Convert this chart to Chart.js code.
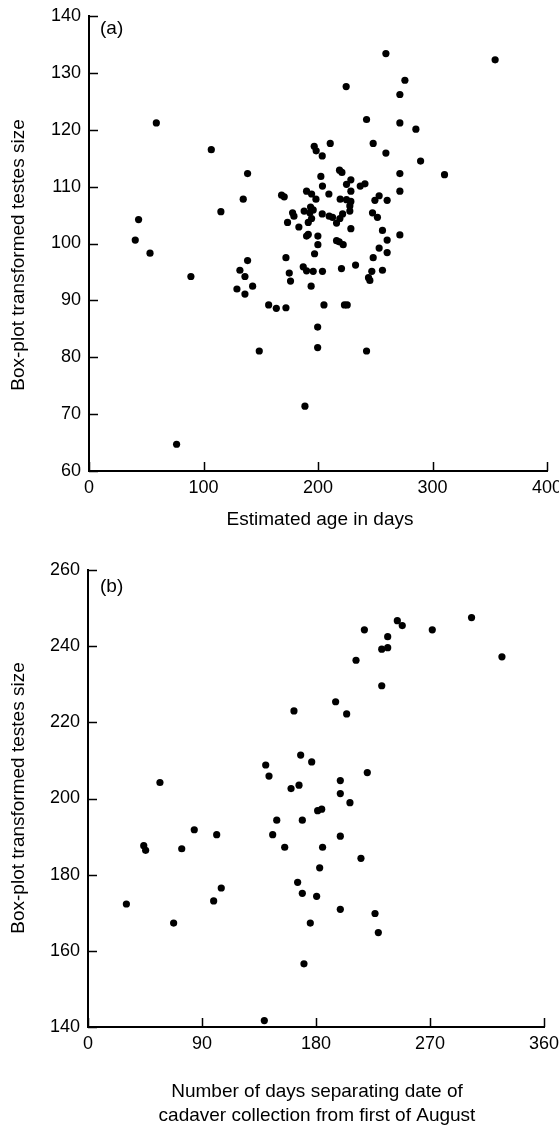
<!DOCTYPE html>
<html>
<head>
<meta charset="utf-8">
<script src="https://cdn.jsdelivr.net/npm/chart.js@4"></script>
<style>
  html, body { margin: 0; padding: 0; background: #fff; }
  body { width: 559px; height: 1125px; position: relative; overflow: hidden; }
  #wrapA { position: absolute; left: 0; top: 0; width: 559px; height: 545px; }
  #wrapB { position: absolute; left: 0; top: 545px; width: 559px; height: 580px; }
</style>
</head>
<body>
<div id="wrapA"><canvas id="chartA" width="559" height="545"></canvas></div>
<div id="wrapB"><canvas id="chartB" width="559" height="580"></canvas></div>
<script>
// Panel (a): estimated age (days) vs box-plot transformed testes size
const ageDays = [
  58.8, 106.8, 138.5, 134.7, 168.2, 170.5, 115.2, 43.3, 40.4, 53.3,
  89.0, 138.5, 131.8, 136.2, 129.2, 142.9, 136.2, 156.9, 163.6, 172.0,
  148.7, 76.5, 188.6, 259.3, 354.7, 275.9, 224.6, 271.5, 242.4, 271.5,
  285.5, 196.7, 210.7, 248.2, 198.4, 203.7, 259.3, 289.6, 310.5, 271.5,
  218.8, 220.9, 202.5, 228.7, 224.9, 203.9, 236.9, 241.0, 228.7, 271.5,
  190.0, 209.5, 194.4, 198.2, 219.4, 224.9, 228.7, 249.7, 253.4, 260.4,
  193.5, 227.8, 227.8, 187.9, 192.9, 195.8, 177.8, 179.0, 203.7, 209.8,
  212.7, 221.5, 219.1, 216.2, 247.6, 251.9, 173.4, 183.3, 191.5, 194.4,
  228.7, 256.3, 271.5, 260.4, 190.0, 191.5, 199.9, 199.9, 216.2, 218.5,
  222.0, 253.4, 260.4, 197.0, 172.0, 248.2, 232.8, 220.5, 187.1, 190.0,
  195.8, 203.9, 174.9, 176.0, 194.0, 247.0, 256.3, 244.1, 245.3, 205.2,
  223.1, 225.5, 199.7, 199.7, 242.4
];
const testesA = [
  121.2, 116.5, 112.3, 107.8, 108.5, 108.2, 105.6, 104.2, 100.6, 98.3,
  94.2, 97.0, 95.3, 94.2, 92.0, 92.5, 91.1, 89.2, 88.6, 88.7,
  81.1, 64.7, 71.4, 133.4, 132.3, 128.7, 127.6, 126.2, 121.8, 121.2,
  120.1, 117.1, 117.6, 117.6, 116.3, 115.4, 115.9, 114.5, 112.1, 112.3,
  112.9, 112.5, 111.8, 111.2, 110.4, 110.1, 110.1, 110.5, 109.2, 109.2,
  109.2, 108.7, 108.7, 107.8, 107.8, 107.7, 107.4, 107.6, 108.4, 107.6,
  106.4, 106.6, 105.7, 105.7, 105.4, 105.9, 105.4, 104.8, 105.2, 104.8,
  104.6, 105.2, 104.4, 103.6, 105.4, 104.6, 103.7, 102.9, 103.7, 104.4,
  102.6, 102.3, 101.5, 100.6, 101.3, 101.6, 101.3, 99.8, 100.5, 100.3,
  99.8, 99.2, 98.4, 98.2, 97.5, 97.5, 96.2, 95.6, 95.9, 95.2,
  95.1, 95.1, 94.8, 93.4, 92.5, 95.1, 95.3, 94.0, 93.5, 89.2,
  89.2, 89.2, 85.3, 81.7, 81.1
];

// Panel (b): days from first of August to cadaver collection vs testes size
const daysFromAug = [
  30.3, 44.0, 45.5, 56.8, 67.6, 74.0, 83.9, 99.2, 101.6, 105.2,
  139.2, 140.3, 142.9, 145.8, 149.0, 155.3, 160.3, 162.6, 165.5, 166.6,
  167.9, 169.2, 169.2, 170.5, 175.5, 176.6, 180.5, 181.3, 182.9, 184.5,
  185.2, 195.5, 199.2, 199.2, 199.2, 199.2, 204.2, 206.8, 211.6, 215.5,
  218.2, 220.5, 226.6, 229.2, 231.9, 231.9, 236.6, 236.6, 244.2, 248.1,
  271.8, 302.8, 326.8
];
const testesB = [
  172.3, 187.6, 186.4, 204.2, 167.3, 186.8, 191.8, 173.1, 190.5, 176.5,
  141.7, 208.8, 205.9, 190.5, 194.3, 187.2, 202.6, 223.0, 178.0, 203.5,
  211.4, 194.3, 175.1, 156.6, 167.3, 209.6, 174.3, 196.8, 181.8, 197.2,
  187.2, 225.4, 204.7, 201.3, 190.1, 170.9, 222.2, 198.9, 236.3, 184.3,
  244.3, 206.8, 169.8, 164.8, 229.6, 239.2, 239.6, 242.5, 246.7, 245.4,
  244.3, 247.5, 237.2
];

// Axis ranges and tick steps
const xTicksA = [0, 100, 200, 300, 400];
const yTicksA = [60, 70, 80, 90, 100, 110, 120, 130, 140];
const xTicksB = [0, 90, 180, 270, 360];
const yTicksB = [140, 160, 180, 200, 220, 240, 260];

const FONT = "'Liberation Sans', Arial, Helvetica, sans-serif";
const TICK_FONT = { family: FONT, size: 18 };

function toPoints(xs, ys) {
  return xs.map((x, i) => ({ x: x, y: ys[i] }));
}

// Inward tick marks, panel letter and axis titles
const axisDecor = {
  id: 'axisDecor',
  afterDraw(chart, args, opts) {
    const ctx = chart.ctx;
    const area = chart.chartArea;
    const xs = chart.scales.x, ys = chart.scales.y;
    ctx.save();
    ctx.strokeStyle = '#000';
    ctx.lineWidth = 1.5;
    ctx.beginPath();
    xs.ticks.forEach(t => {
      const px = Math.round(xs.getPixelForValue(t.value)) + 0.5;
      ctx.moveTo(px, area.bottom);
      ctx.lineTo(px, area.bottom - 9);
    });
    ys.ticks.forEach(t => {
      const py = Math.round(ys.getPixelForValue(t.value)) + 0.5;
      ctx.moveTo(area.left, py);
      ctx.lineTo(area.left + 9, py);
    });
    ctx.stroke();

    ctx.fillStyle = '#000';
    ctx.font = '19px ' + FONT;
    ctx.textBaseline = 'alphabetic';
    ctx.textAlign = 'left';
    ctx.fillText(opts.panel, opts.panelX, opts.panelY);

    ctx.textAlign = 'center';
    opts.xTitle.forEach((line, i) => {
      ctx.fillText(line, opts.xTitleX, opts.xTitleY + i * 24);
    });

    ctx.translate(opts.yTitleX, opts.yTitleY);
    ctx.rotate(-Math.PI / 2);
    ctx.textBaseline = 'middle';
    ctx.fillText(opts.yTitle, 0, 0);
    ctx.restore();
  }
};

function makeChart(id, cfg) {
  const fixedX = s => { s.height = cfg.xHeight; s.paddingLeft = 0; s.paddingRight = 0; };
  const fixedY = s => { s.width = cfg.yWidth; s.paddingTop = 0; s.paddingBottom = 0; };
  return new Chart(document.getElementById(id), {
    type: 'scatter',
    data: {
      datasets: [{
        data: toPoints(cfg.xs, cfg.ys),
        backgroundColor: '#000',
        borderWidth: 0,
        pointRadius: 3.6,
        pointHoverRadius: 3.6
      }]
    },
    options: {
      responsive: false,
      animation: false,
      events: [],
      layout: { padding: { top: cfg.padTop, right: cfg.padRight, left: 0, bottom: 0 } },
      plugins: {
        legend: { display: false },
        tooltip: { enabled: false },
        axisDecor: cfg.decor
      },
      scales: {
        x: {
          type: 'linear',
          min: cfg.xTicks[0],
          max: cfg.xTicks[cfg.xTicks.length - 1],
          afterBuildTicks: s => { s.ticks = cfg.xTicks.map(v => ({ value: v })); },
          afterFit: fixedX,
          grid: { display: false, drawTicks: false },
          border: { display: true, color: '#000', width: 2 },
          ticks: { color: '#000', font: TICK_FONT, padding: 6, maxRotation: 0, autoSkip: false }
        },
        y: {
          type: 'linear',
          min: cfg.yTicks[0],
          max: cfg.yTicks[cfg.yTicks.length - 1],
          afterBuildTicks: s => { s.ticks = cfg.yTicks.map(v => ({ value: v })); },
          afterFit: fixedY,
          grid: { display: false, drawTicks: false },
          border: { display: true, color: '#000', width: 2 },
          ticks: { color: '#000', font: TICK_FONT, padding: 8, autoSkip: false }
        }
      }
    },
    plugins: [axisDecor]
  });
}

makeChart('chartA', {
  xs: ageDays, ys: testesA, xTicks: xTicksA, yTicks: yTicksA,
  padTop: 16, padRight: 12, xHeight: 74, yWidth: 89,
  decor: {
    panel: '(a)', panelX: 100, panelY: 34,
    xTitle: ['Estimated age in days'], xTitleX: 320, xTitleY: 525,
    yTitle: 'Box-plot transformed testes size', yTitleX: 19, yTitleY: 255
  }
});

makeChart('chartB', {
  xs: daysFromAug, ys: testesB, xTicks: xTicksB, yTicks: yTicksB,
  padTop: 25, padRight: 15, xHeight: 98, yWidth: 88,
  decor: {
    panel: '(b)', panelX: 100, panelY: 47,
    xTitle: ['Number of days separating date of', 'cadaver collection from first of August'],
    xTitleX: 317, xTitleY: 552,
    yTitle: 'Box-plot transformed testes size', yTitleX: 19, yTitleY: 253
  }
});
</script>
</body>
</html>
